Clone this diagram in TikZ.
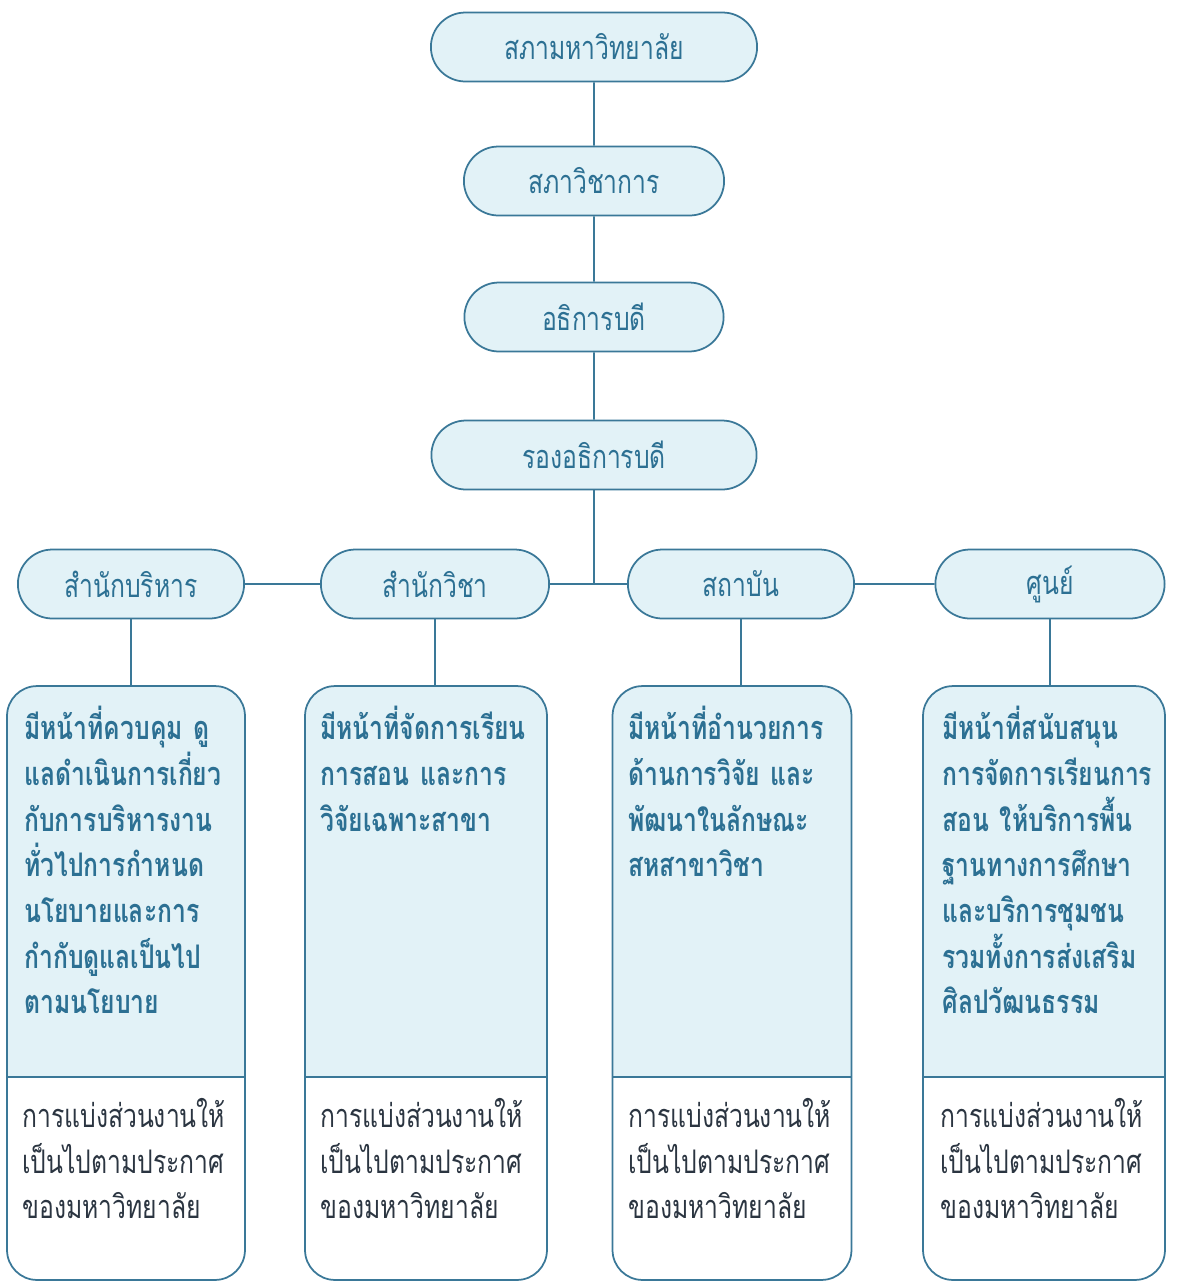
\documentclass[tikz,border=0pt]{standalone}
\usepackage{fontspec}
\newfontfamily\thaifont[Script=Thai, FakeStretch=0.76]{Loma}
\usetikzlibrary{shapes.misc, positioning}
\definecolor{linecol}{HTML}{3A7898}
\definecolor{boxfill}{HTML}{E2F2F7}
\definecolor{labelcol}{HTML}{2C7093}
\definecolor{notecol}{HTML}{2B3541}
\newlength{\dutywidth}
\setlength{\dutywidth}{4.0cm}
\newcommand{\spreadline}[1]{\makebox[\dutywidth][s]{#1}}
\tikzstyle{oval} = [rounded rectangle, minimum height=1.38cm, draw=linecol,
	line width=1pt, fill=boxfill, text=labelcol,
	font=\thaifont\fontsize{18.5}{20}\selectfont]
\tikzstyle{dutybox} = [rectangle, rounded corners=0.6cm, draw=linecol, line width=1pt,
	path picture={
		\fill[boxfill, sharp corners] (path picture bounding box.north west) rectangle
			([yshift=4.06cm]path picture bounding box.south east);
		\draw[linecol, line width=1pt, sharp corners]
			([yshift=4.06cm]path picture bounding box.south west)
			-- ([yshift=4.06cm]path picture bounding box.south east);
	}]
\tikzstyle{duty} = [anchor=north west, inner sep=0pt, text width=\dutywidth, align=left,
	text=labelcol, font=\thaifont\bfseries\fontsize{18.5}{26}\selectfont]
\tikzstyle{note} = [anchor=north west, inner sep=0pt, text width=\dutywidth, align=left,
	text=notecol, font=\thaifont\fontsize{18.5}{26}\selectfont]
\tikzstyle{link} = [draw=linecol, line width=1pt]

\begin{document}
\begin{tikzpicture}[x=0.02cm, y=-0.02cm]
	% set up frame
	\useasboundingbox (0,0) rectangle (1180,1286);

	% set up top column
	\node (council) [oval, minimum width=6.76cm] at (594,47) {สภามหาวิทยาลัย};
	\node (senate) [oval, minimum width=5.44cm] at (594,181) {สภาวิชาการ};
	\node (rector) [oval, minimum width=5.42cm] at (594,317) {อธิการบดี};
	\node (vice) [oval, minimum width=6.74cm] at (594,455) {รองอธิการบดี};

	% set up offices
	\node (admin) [oval, minimum width=4.76cm] at (131,584) {สำนักบริหาร};
	\node (school) [oval, minimum width=4.80cm] at (435,584) {สำนักวิชา};
	\node (institute) [oval, minimum width=4.76cm] at (741,584) {สถาบัน};
	\node (center) [oval, minimum width=4.82cm] at (1050,584) {ศูนย์};

	% set up duty boxes
	\node (admin-box) [dutybox, minimum width=4.76cm, minimum height=11.88cm] at (126,983) {};
	\node (school-box) [dutybox, minimum width=4.84cm, minimum height=11.88cm] at (426,983) {};
	\node (institute-box) [dutybox, minimum width=4.78cm, minimum height=11.88cm] at (732,983) {};
	\node (center-box) [dutybox, minimum width=4.84cm, minimum height=11.88cm] at (1044,983) {};

	% duty texts
	\node (admin-duty) [duty] at (24,706) {\spreadline{มีหน้าที่ควบคุม ดู}\\
		แลดำเนินการเกี่ยว\\ กับการบริหารงาน\\ ทั่วไปการกำหนด\\
		นโยบายและการ\\ กำกับดูแลเป็นไป\\ ตามนโยบาย};
	\node (school-duty) [duty] at (320,706) {มีหน้าที่จัดการเรียน\\
		\spreadline{การสอน และการ}\\ วิจัยเฉพาะสาขา};
	\node (institute-duty) [duty] at (628,706) {มีหน้าที่อำนวยการ\\
		\spreadline{ด้านการวิจัย และ}\\ พัฒนาในลักษณะ\\ สหสาขาวิชา};
	\node (center-duty) [duty] at (942,706) {มีหน้าที่สนับสนุน\\
		การจัดการเรียนการ\\ \spreadline{สอน ให้บริการพื้น}\\ ฐานทางการศึกษา\\
		และบริการชุมชน\\ รวมทั้งการส่งเสริม\\ ศิลปวัฒนธรรม};

	% notes
	\node (admin-note) [note] at (22,1098) {การแบ่งส่วนงานให้\\ เป็นไปตามประกาศ\\ ของมหาวิทยาลัย};
	\node (school-note) [note] at (320,1098) {การแบ่งส่วนงานให้\\ เป็นไปตามประกาศ\\ ของมหาวิทยาลัย};
	\node (institute-note) [note] at (628,1098) {การแบ่งส่วนงานให้\\ เป็นไปตามประกาศ\\ ของมหาวิทยาลัย};
	\node (center-note) [note] at (940,1098) {การแบ่งส่วนงานให้\\ เป็นไปตามประกาศ\\ ของมหาวิทยาลัย};

	% connectors
	\coordinate (hub) at (vice.south |- school.east);
	\draw[link] (council) -- (senate);
	\draw[link] (senate) -- (rector);
	\draw[link] (rector) -- (vice);
	\draw[link] (vice.south) -- (hub);
	\draw[link] (admin) -- (school);
	\draw[link] (school) -- (institute);
	\draw[link] (institute) -- (center);
	\draw[link] (admin.south) -- (admin.south |- admin-box.north);
	\draw[link] (school.south) -- (school.south |- school-box.north);
	\draw[link] (institute.south) -- (institute.south |- institute-box.north);
	\draw[link] (center.south) -- (center.south |- center-box.north);
\end{tikzpicture}
\end{document}
